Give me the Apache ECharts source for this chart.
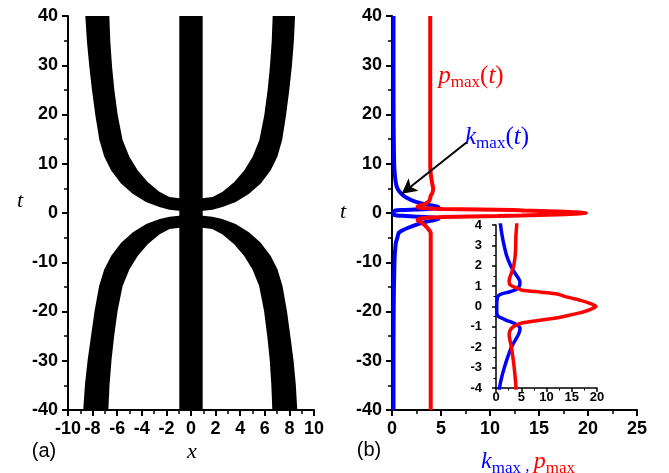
<!DOCTYPE html>
<html><head><meta charset="utf-8">
<script src="https://cdn.jsdelivr.net/npm/echarts@6/dist/echarts.min.js"></script>
<style>html,body{margin:0;padding:0;background:#fff}#c{width:669px;height:473px}</style>
</head><body><div id="c"></div>
<script>
// ---------- Panel (a): regions [x, t] ----------
const bandX = [-0.95, 0.95];
const bandT = [-40, 40];
const upperLeftOuter = [[-8.59,40],[-8.46,34.8],[-8.27,29.8],[-8.05,25],[-7.78,19.9],[-7.45,14.8],[-7.05,11.4],[-6.5,8.7],[-5.69,6.0],[-4.74,3.9],[-3.66,2.24],[-2.57,1.22],[-1.76,0.68],[-0.6,0.34]];
const upperLeftInner = [[-6.64,40],[-6.56,34.8],[-6.42,29.8],[-6.23,25],[-5.96,19.9],[-5.56,14.8],[-5.01,11.4],[-4.34,8.7],[-3.52,6.3],[-2.57,4.3],[-1.76,3.25],[-0.6,2.9]];
const upperRightOuter = [[8.46,40],[8.36,34.8],[8.2,29.8],[7.99,25],[7.73,19.9],[7.41,14.8],[7.02,11.4],[6.48,8.7],[5.67,6.0],[4.72,3.9],[3.64,2.24],[2.55,1.22],[1.75,0.68],[0.6,0.34]];
const upperRightInner = [[6.64,40],[6.56,34.8],[6.42,29.8],[6.23,25],[5.96,19.9],[5.56,14.8],[5.01,11.4],[4.34,8.7],[3.52,6.3],[2.57,4.3],[1.76,3.25],[0.6,2.9]];
const lowerLeftOuter = [[-8.76,-40],[-8.62,-34.8],[-8.4,-29.8],[-8.13,-25],[-7.84,-19.9],[-7.47,-14.8],[-7.05,-11.4],[-6.48,-8.7],[-5.66,-6.0],[-4.72,-3.9],[-3.64,-2.24],[-2.55,-1.22],[-1.74,-0.75],[-0.6,-0.45]];
const lowerLeftInner = [[-6.72,-40],[-6.62,-34.8],[-6.46,-29.8],[-6.25,-25],[-5.97,-19.9],[-5.56,-14.8],[-5.0,-11.4],[-4.32,-8.7],[-3.5,-6.3],[-2.55,-4.3],[-1.74,-3.25],[-0.6,-2.9]];
const lowerRightOuter = [[8.64,-40],[8.52,-34.8],[8.33,-29.8],[8.08,-25],[7.8,-19.9],[7.44,-14.8],[7.03,-11.4],[6.47,-8.7],[5.65,-6.0],[4.71,-3.9],[3.63,-2.24],[2.54,-1.22],[1.73,-0.75],[0.6,-0.45]];
const lowerRightInner = [[6.61,-40],[6.53,-34.8],[6.4,-29.8],[6.2,-25],[5.94,-19.9],[5.54,-14.8],[4.99,-11.4],[4.31,-8.7],[3.49,-6.3],[2.54,-4.3],[1.73,-3.25],[0.6,-2.9]];

// ---------- Panel (b): k_max(t), p_max(t) ----------
const tVals = [-40,-30,-20,-15,-10,-8,-6,-5,-4,-3.5,-3,-2.5,-2,-1.7,-1.4,-1.2,-1.05,-0.9,-0.8,-0.7,-0.6,-0.5,-0.4,-0.3,-0.15,0,0.15,0.3,0.4,0.5,0.6,0.7,0.8,0.9,1.05,1.2,1.4,1.7,2,2.5,3,3.5,4,5,6,8,10,15,20,30,40];
const kVals = [0.15,0.15,0.17,0.2,0.25,0.3,0.4,0.55,0.7,1.1,1.65,2.3,3.05,3.7,4.4,4.7,4.75,4.2,3.4,2.3,1.4,0.5,0.25,0.15,0.15,0.15,0.15,0.2,0.25,0.35,0.9,2.4,3.7,4.3,4.7,4.75,4.4,3.6,2.9,2.1,1.6,1.2,0.9,0.55,0.4,0.28,0.22,0.18,0.16,0.15,0.15];
const pVals = [3.95,3.95,3.95,3.95,3.95,3.95,3.95,3.95,3.95,3.8,3.6,3.35,3.05,2.8,2.6,2.75,3.15,4.1,5.3,8.0,10.8,13.2,15.0,16.8,18.6,19.8,18.6,16.8,15.2,13.5,12.3,9.0,5.2,4.2,2.9,2.6,2.7,3.15,3.5,3.8,3.9,3.95,4.1,4.2,4.1,3.95,3.9,3.9,3.9,3.9,3.9];

// axis ranges [min, max, interval]
const aXRange = [-10, 10, 2];
const tRange = [-40, 40, 10];
const bXRange = [0, 25, 5];
const insetXRange = [0, 20, 5];
const insetTRange = [-4, 4, 1];

// arrow annotation (data coords in panel b)
const arrowFrom = [7.6, 14.3];
const arrowTo = [1.0, 3.9];

const polys = [
  upperLeftOuter.concat(upperLeftInner.slice().reverse()),
  upperRightOuter.concat(upperRightInner.slice().reverse()),
  lowerLeftOuter.concat(lowerLeftInner.slice().reverse()),
  lowerRightOuter.concat(lowerRightInner.slice().reverse()),
  [[bandX[0],bandT[0]],[bandX[1],bandT[0]],[bandX[1],bandT[1]],[bandX[0],bandT[1]]]
];

const SANS = 'Liberation Sans, Arial, sans-serif';

function valAxis(grid, r, opt) {
  return Object.assign({
    type: 'value', gridIndex: grid, min: r[0], max: r[1], interval: r[2],
    axisLine: {show: true, onZero: false, lineStyle: {color: '#000', width: 2}},
    axisTick: {show: true, inside: false, length: 6, lineStyle: {color: '#000', width: 2}},
    minorTick: {show: true, splitNumber: 2, length: 4, lineStyle: {color: '#000', width: 1.5}},
    splitLine: {show: false},
    axisLabel: {color: '#000', fontFamily: SANS, fontWeight: 'bold', fontSize: 18, margin: 10}
  }, opt || {});
}
function insetAxis(grid, r, margin) {
  return valAxis(grid, r, {
    axisLine: {show: true, onZero: false, lineStyle: {color: '#000', width: 1.5}},
    axisTick: {show: true, inside: false, length: 4, lineStyle: {color: '#000', width: 1.5}},
    minorTick: {show: true, splitNumber: 2, length: 2.5, lineStyle: {color: '#000', width: 1}},
    axisLabel: {color: '#000', fontFamily: SANS, fontWeight: 'bold', fontSize: 13, margin: margin}
  });
}

const chart = echarts.init(document.getElementById('c'), null, {renderer: 'canvas'});
const sub = {fontFamily: 'Liberation Serif', fontSize: 17, padding: [14, 0, 0, 0]};
function richStyle(color) {
  return {
    i: {fontFamily: 'Liberation Serif', fontStyle: 'italic', fontSize: 25, fill: color},
    n: {fontFamily: 'Liberation Serif', fontSize: 25, fill: color},
    s: Object.assign({fill: color}, sub)
  };
}

chart.setOption({
  animation: false,
  backgroundColor: '#fff',
  grid: [
    {left: 68, top: 16, width: 246, height: 394},
    {left: 392, top: 16, width: 245, height: 394},
    {left: 496, top: 225, width: 101, height: 163}
  ],
  xAxis: [
    valAxis(0, aXRange),
    valAxis(1, bXRange),
    insetAxis(2, insetXRange, 3)
  ],
  yAxis: [
    valAxis(0, tRange),
    valAxis(1, tRange),
    insetAxis(2, insetTRange, 14)
  ],
  series: [
    {
      type: 'custom', xAxisIndex: 0, yAxisIndex: 0, silent: true,
      data: polys.map((p, i) => [i]),
      renderItem: function (params, api) {
        const pts = polys[params.dataIndex].map(p => api.coord(p));
        return {type: 'polygon', shape: {points: pts}, style: {fill: '#000'}};
      }
    },
    {
      type: 'line', xAxisIndex: 1, yAxisIndex: 1, showSymbol: false, smooth: 0.25,
      data: tVals.map((t, i) => [kVals[i], t]),
      lineStyle: {color: '#0000ff', width: 4}, itemStyle: {color: '#0000ff'},
      markLine: {
        silent: true, symbol: ['none', 'arrow'], symbolSize: [12, 15], animation: false,
        lineStyle: {color: '#000', width: 2, type: 'solid'}, label: {show: false},
        data: [[{coord: arrowFrom}, {coord: arrowTo}]]
      }
    },
    {
      type: 'line', xAxisIndex: 1, yAxisIndex: 1, showSymbol: false, smooth: 0.25,
      data: tVals.map((t, i) => [pVals[i], t]),
      lineStyle: {color: '#ff0000', width: 4}, itemStyle: {color: '#ff0000'}
    },
    {
      type: 'line', xAxisIndex: 2, yAxisIndex: 2, showSymbol: false, smooth: 0.25, clip: true,
      data: tVals.map((t, i) => [kVals[i], t]),
      lineStyle: {color: '#0000ff', width: 3.5}
    },
    {
      type: 'line', xAxisIndex: 2, yAxisIndex: 2, showSymbol: false, smooth: 0.25, clip: true,
      data: tVals.map((t, i) => [pVals[i], t]),
      lineStyle: {color: '#ff0000', width: 3.5}
    }
  ],
  graphic: [
    {type: 'text', x: 20, y: 201, style: {text: 't', font: 'italic 22px Liberation Serif', fill: '#000', textAlign: 'center', textVerticalAlign: 'middle'}},
    {type: 'text', x: 343, y: 212, style: {text: 't', font: 'italic 22px Liberation Serif', fill: '#000', textAlign: 'center', textVerticalAlign: 'middle'}},
    {type: 'text', x: 192, y: 452, style: {text: 'x', font: 'italic 22px Liberation Serif', fill: '#000', textAlign: 'center', textVerticalAlign: 'middle'}},
    {type: 'text', x: 44, y: 451, style: {text: '(a)', font: '20px Liberation Sans', fill: '#000', textAlign: 'center', textVerticalAlign: 'middle'}},
    {type: 'text', x: 369, y: 450, style: {text: '(b)', font: '20px Liberation Sans', fill: '#000', textAlign: 'center', textVerticalAlign: 'middle'}},
    {type: 'text', x: 471, y: 76, style: {text: '{i|p}{s|max}{n|(}{i|t}{n|)}', rich: richStyle('#ff0000'), textAlign: 'center', textVerticalAlign: 'middle'}},
    {type: 'text', x: 497, y: 137, style: {text: '{i|k}{s|max}{n|(}{i|t}{n|)}', rich: richStyle('#0000ff'), textAlign: 'center', textVerticalAlign: 'middle'}},
    {type: 'text', x: 528, y: 462, style: {text: '{k|k}{ks|max}{c| , }{p|p}{ps|max}', rich: {
      k: {fontFamily: 'Liberation Serif', fontStyle: 'italic', fontSize: 24, fill: '#0000ff'},
      ks: Object.assign({}, sub, {fontSize: 17, padding: [13, 0, 0, 0], fill: '#0000ff'}),
      c: {fontFamily: 'Liberation Serif', fontSize: 17, fill: '#0000ff', padding: [9, 0, 0, 0]},
      p: {fontFamily: 'Liberation Serif', fontStyle: 'italic', fontSize: 24, fill: '#ff0000'},
      ps: Object.assign({}, sub, {fontSize: 17, padding: [13, 0, 0, 0], fill: '#ff0000'})
    }, textAlign: 'center', textVerticalAlign: 'middle'}}
  ]
});
</script></body></html>
